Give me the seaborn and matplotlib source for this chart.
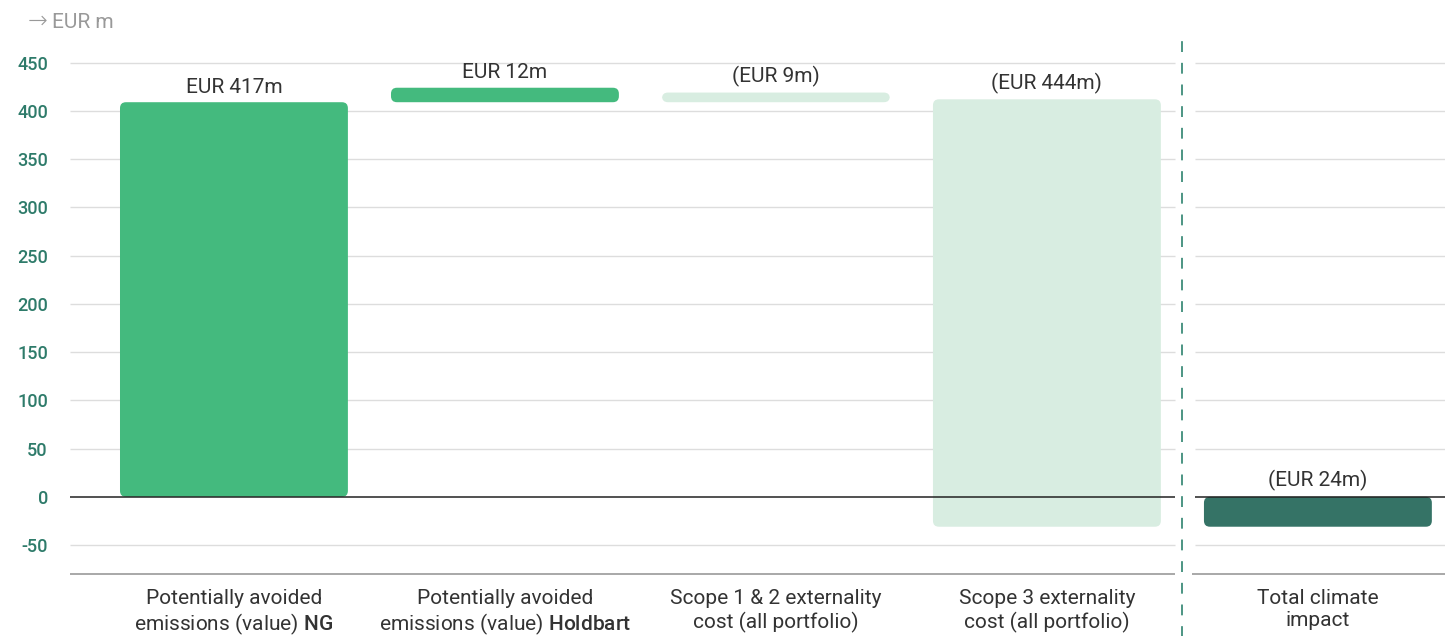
import matplotlib
matplotlib.use("Agg")
import matplotlib.pyplot as plt
from matplotlib.patches import FancyBboxPatch
import seaborn as sns

# data (EUR m)
categories = ["NG", "Holdbart", "Scope12", "Scope3", "Total"]
tick_labels = [
    "Potentially avoided\nemissions (value) $\\mathbf{NG}$",
    "Potentially avoided\nemissions (value) $\\mathbf{Holdbart}$",
    "Scope 1 & 2 externality\ncost (all portfolio)",
    "Scope 3 externality\ncost (all portfolio)",
    "Total climate\nimpact",
]
bar_start = [0, 409, 409, 412, 0]
bar_end = [409, 424, 419, -31, -31]
value_labels = ["EUR 417m", "EUR 12m", "(EUR 9m)", "(EUR 444m)", "(EUR 24m)"]
bar_colors = ["#44BA7E", "#44BA7E", "#D8EDE1", "#D8EDE1", "#357366"]
y_ticks = [450, 400, 350, 300, 250, 200, 150, 100, 50, 0, -50]

sns.set_style("white")
plt.rcParams["font.family"] = ["Roboto", "DejaVu Sans"]
plt.rcParams["mathtext.fontset"] = "custom"
plt.rcParams["mathtext.rm"] = "Roboto"
plt.rcParams["mathtext.bf"] = "Roboto:medium"

fig = plt.figure(figsize=(14.45, 6.36), dpi=100)
ax = fig.add_axes([70 / 1445, 1 - 574 / 636, 1 - 70 / 1445, (574 - 53) / 636])

bottoms = [min(s, e) for s, e in zip(bar_start, bar_end)]
heights = [abs(e - s) for s, e in zip(bar_start, bar_end)]

sns.barplot(x=categories, y=heights, hue=categories, palette=bar_colors,
            saturation=1, legend=False, width=0.841, ax=ax, zorder=2)

xl, xr = -0.605, 4.469
ax.set_xlim(xl, xr)
ax.set_ylim(-80, 460)

# swap plain rectangles for rounded ones
for patch, b in zip(list(ax.patches), bottoms):
    x, w, h = patch.get_x(), patch.get_width(), patch.get_height()
    fc = patch.get_facecolor()
    patch.remove()
    r = 0.022
    fb = FancyBboxPatch((x, b), w, h, boxstyle=f"round,pad=0,rounding_size={r}",
                        mutation_aspect=6.2 / r, facecolor=fc, edgecolor="none",
                        zorder=2)
    ax.add_patch(fb)

# grid lines with a gap around the divider
gap_l, gap_r = 3.472, 3.546
for yv in y_ticks:
    col, lw, z = ("#222222", 1.1, 3) if yv == 0 else ("#DDDDDD", 1.0, 1)
    ax.hlines(yv, xl, gap_l, color=col, lw=lw, zorder=z)
    ax.hlines(yv, gap_r, xr, color=col, lw=lw, zorder=z)
ax.hlines(-80, xl, gap_l, color="#999999", lw=1.2, zorder=1, clip_on=False)
ax.hlines(-80, gap_r - 0.01, xr, color="#999999", lw=1.2, zorder=1, clip_on=False)

# dashed divider before the total
ax.axvline(3.498, ymin=-0.12, ymax=1.035, color="#3E8C7A", lw=1.3,
           dashes=(6, 6), clip_on=False, zorder=4)

# value labels
for i, (s, e, lab) in enumerate(zip(bar_start, bar_end, value_labels)):
    ax.annotate(lab, (i, max(s, e)), xytext=(0, 4), textcoords="offset points",
                ha="center", va="bottom", fontsize=15, color="#333333")

for sp in ax.spines.values():
    sp.set_visible(False)

ax.set_yticks(y_ticks)
ax.set_yticklabels([str(v) for v in y_ticks], fontsize=13, color="#2E7B6A",
                   fontweight="medium")
ax.tick_params(axis="y", length=0, pad=16)
ax.set_xticks(range(len(categories)))
ax.set_xticklabels(tick_labels, fontsize=15, color="#333333", linespacing=1.2)
ax.tick_params(axis="x", length=0, pad=11)
ax.set_xlabel("")
ax.set_ylabel("")

fig.text(28 / 1445, 1 - 21 / 636, "→", fontsize=17, color="#999999",
         va="center", ha="left", fontweight="light")
fig.text(52 / 1445, 1 - 22 / 636, "EUR m", fontsize=15, color="#999999",
         va="center", ha="left")

fig.savefig("out.png", dpi=100)
